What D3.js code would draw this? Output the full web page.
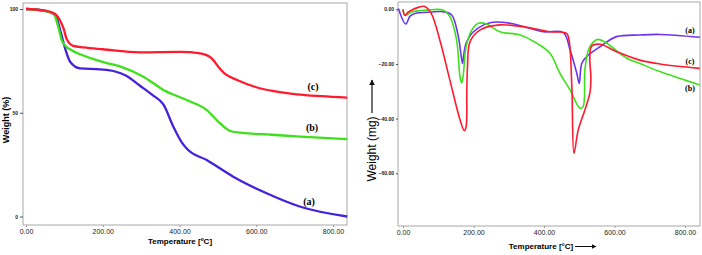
<!DOCTYPE html>
<html>
<head>
<meta charset="utf-8">
<script src="https://cdn.jsdelivr.net/npm/d3@7"></script>
<style>
  body { margin: 0; background: #fff; }
  svg { display: block; }
  .tick text { font-family: "Liberation Sans", Arial, sans-serif; fill: #222; }
</style>
</head>
<body>
<svg id="chart" width="702" height="255"></svg>
<script>
// TGA curves, left panel: [temperature, weight %]
const tgaA = [[0,100],[40,99.5],[76,97.1],[89,89.9],[102,81],[115,74.6],[141,71.4],[193,70.9],[230,70],[260,68],[297,63],[330,58.5],[358,54],[384,43.3],[405,36],[420,32.5],[471,27.2],[540,19.2],[627,11.2],[715,4.7],[837,0]]
const tgaB = [[0,100],[40,99.3],[71,97.9],[84,91.5],[93,85],[102,82.4],[120,80],[141,78.2],[202,74.4],[250,72],[306,67.4],[358,61],[420,56],[471,51.3],[505,45],[532,41.2],[558,40.4],[640,39.4],[715,38.5],[837,37.3]]
const tgaC = [[0,100],[50,99.2],[76,97.6],[90,94],[98,90.5],[106,85.5],[123,82.2],[150,81.5],[200,80.6],[297,79.1],[402,79.3],[454,78.6],[484,76.2],[501,72.2],[519,68.7],[550,65.8],[600,62.3],[650,60.3],[706,58.9],[770,58],[837,57.3]]

// DTG curves, right panel: [temperature, weight mg]
const dtgA = [[-13,0.3],[8,-5.4],[20,-2.5],[34,-1.5],[80,-1],[114,-0.9],[138,-2.1],[157,-10],[165,-17],[169,-19.8],[173,-16],[179,-12.4],[200,-8.2],[247,-4.9],[304,-5.1],[398,-8.2],[455,-8.5],[474,-14.9],[493,-23.4],[500,-27.1],[507,-19.8],[521,-17.3],[559,-13.7],[606,-10],[672,-9.4],[729,-9.2],[842,-10.2]]
const dtgB = [[0,0],[6,-2.2],[25,-1],[67,-0.3],[114,-0.3],[133,-2.7],[152,-11.2],[162,-25],[166.5,-26.9],[171,-24],[179,-13.7],[195,-7.6],[214,-5.1],[237,-5.4],[275,-8.2],[332,-9.4],[379,-12.4],[417,-16.1],[445,-23.4],[474,-29.5],[502,-36.2],[511,-35.6],[516,-22.2],[526,-14.9],[540,-11.9],[554,-11],[578,-12.4],[635,-17.9],[672,-19.8],[729,-22.8],[842,-27.7]]
const dtgC = [[0,0],[5,-2.2],[15,-1],[45,0.8],[62,1],[80,-1.5],[105,-11.5],[133,-25.9],[162,-40.5],[174,-44.4],[179,-43],[181,-30],[183,-21],[190,-11.9],[218,-7.6],[275,-5.7],[370,-7],[417,-8.2],[464,-8.8],[471,-11.2],[479,-28.3],[485,-52.7],[497,-44.2],[516,-36.8],[530,-30.7],[533,-25],[530,-18],[535,-13.5],[559,-12.8],[606,-15.5],[672,-18.6],[729,-20],[842,-21.6]]

const tempTicks = [0, 200, 400, 600, 800]
const tgaTicks = [0, 50, 100]
const dtgTicks = [0, -20, -40, -60]

const RED = "#ff1a2e", GREEN = "#3ee01c", BLUE = "#4422dd", PURPLE = "#6b35ee"

const svg = d3.select("#chart")

// ---------- left panel ----------
const xL = d3.scaleLinear().domain([0, 800]).range([26, 333])
const yL = d3.scaleLinear().domain([0, 100]).range([216.5, 9])

svg.append("rect")
    .attr("x", 23).attr("y", 3).attr("width", 324).attr("height", 222)
    .attr("fill", "none").attr("stroke", "#a8a8a8").attr("stroke-width", 1)

const axBL = svg.append("g").attr("transform", "translate(0,225)")
    .call(d3.axisBottom(xL).tickValues(tempTicks).tickFormat(d3.format(".2f")).tickSize(2))
axBL.select(".domain").remove()
axBL.selectAll("line").attr("stroke", "#999")
axBL.selectAll("text").attr("font-size", "7px").attr("dy", "0.6em")

const axLL = svg.append("g").attr("transform", "translate(23,0)")
    .call(d3.axisLeft(yL).tickValues(tgaTicks).tickFormat(d3.format("d")).tickSize(3).tickPadding(2))
axLL.select(".domain").remove()
axLL.selectAll("line").attr("stroke", "#555")
axLL.selectAll("text").attr("font-size", "5px").attr("font-weight", "bold")

const lineL = d3.line().x(d => xL(d[0])).y(d => yL(d[1])).curve(d3.curveMonotoneX)

;[[tgaA, BLUE], [tgaB, GREEN], [tgaC, RED]].forEach(([data, color]) => {
    svg.append("path")
        .datum(data)
        .attr("d", lineL)
        .attr("fill", "none")
        .attr("stroke", color)
        .attr("stroke-width", 2.3)
})

svg.append("text")
    .attr("transform", "translate(9,120) rotate(-90)")
    .attr("text-anchor", "middle")
    .attr("font-family", "Liberation Sans, Arial, sans-serif")
    .attr("font-weight", "bold").attr("font-size", "9px")
    .text("Weight (%)")

svg.append("text")
    .attr("x", 180).attr("y", 244)
    .attr("text-anchor", "middle")
    .attr("font-family", "Liberation Sans, Arial, sans-serif")
    .attr("font-weight", "bold").attr("font-size", "8px")
    .text("Temperature [ºC]")

const tgaLabels = [["(c)", 313, 90], ["(b)", 312, 131], ["(a)", 309, 205]]
svg.selectAll(".tga-label")
    .data(tgaLabels)
    .enter().append("text")
    .attr("class", "tga-label")
    .attr("x", d => d[1]).attr("y", d => d[2])
    .attr("text-anchor", "middle")
    .attr("font-family", "Liberation Serif, Times New Roman, serif")
    .attr("font-weight", "bold").attr("font-size", "10px")
    .text(d => d[0])

// ---------- right panel ----------
const xR = d3.scaleLinear().domain([0, 800]).range([403, 685])
const yR = d3.scaleLinear().domain([0, -60]).range([9.3, 173.3])

svg.append("rect")
    .attr("x", 398).attr("y", 2).attr("width", 302).attr("height", 224)
    .attr("fill", "none").attr("stroke", "#a8a8a8").attr("stroke-width", 1)

const axBR = svg.append("g").attr("transform", "translate(0,226)")
    .call(d3.axisBottom(xR).tickValues(tempTicks).tickFormat(d3.format(".2f")).tickSize(2))
axBR.select(".domain").remove()
axBR.selectAll("line").attr("stroke", "#999")
axBR.selectAll("text").attr("font-size", "7px").attr("dy", "0.6em")

const axLR = svg.append("g").attr("transform", "translate(398,0)")
    .call(d3.axisLeft(yR).tickValues(dtgTicks).tickFormat(d3.format(".2f")).tickSize(2).tickPadding(2))
axLR.select(".domain").remove()
axLR.selectAll("line").attr("stroke", "#555")
axLR.selectAll("text").attr("font-size", "5px").attr("font-weight", "bold")

const lineR = d3.line().x(d => xR(d[0])).y(d => yR(d[1])).curve(d3.curveCatmullRom.alpha(0.5))

;[[dtgA, PURPLE], [dtgB, GREEN], [dtgC, RED]].forEach(([data, color]) => {
    svg.append("path")
        .datum(data)
        .attr("d", lineR)
        .attr("fill", "none")
        .attr("stroke", color)
        .attr("stroke-width", 1.6)
})

svg.append("text")
    .attr("transform", "translate(376,149) rotate(-90)")
    .attr("text-anchor", "middle")
    .attr("font-family", "Liberation Sans, Arial, sans-serif")
    .attr("font-size", "12px")
    .text("Weight (mg)")

// arrows next to the axis titles
svg.append("defs").append("marker")
    .attr("id", "arrow")
    .attr("viewBox", "0 0 10 10").attr("refX", 9).attr("refY", 5)
    .attr("markerWidth", 5).attr("markerHeight", 5)
    .attr("orient", "auto")
    .append("path").attr("d", "M0,0L10,5L0,10z").attr("fill", "#111")

svg.append("line")
    .attr("x1", 372).attr("y1", 113).attr("x2", 372).attr("y2", 80)
    .attr("stroke", "#111").attr("stroke-width", 1.2)
    .attr("marker-end", "url(#arrow)")

svg.append("text")
    .attr("x", 541).attr("y", 249)
    .attr("text-anchor", "middle")
    .attr("font-family", "Liberation Sans, Arial, sans-serif")
    .attr("font-weight", "bold").attr("font-size", "8px")
    .text("Temperature [°C]")

svg.append("line")
    .attr("x1", 575).attr("y1", 246.5).attr("x2", 596).attr("y2", 246.5)
    .attr("stroke", "#111").attr("stroke-width", 1)
    .attr("marker-end", "url(#arrow)")

const dtgLabels = [["(a)", 690, 33], ["(c)", 690, 64], ["(b)", 690, 91]]
svg.selectAll(".dtg-label")
    .data(dtgLabels)
    .enter().append("text")
    .attr("class", "dtg-label")
    .attr("x", d => d[1]).attr("y", d => d[2])
    .attr("text-anchor", "middle")
    .attr("font-family", "Liberation Serif, Times New Roman, serif")
    .attr("font-weight", "bold").attr("font-size", "8px")
    .text(d => d[0])
</script>
</body>
</html>
